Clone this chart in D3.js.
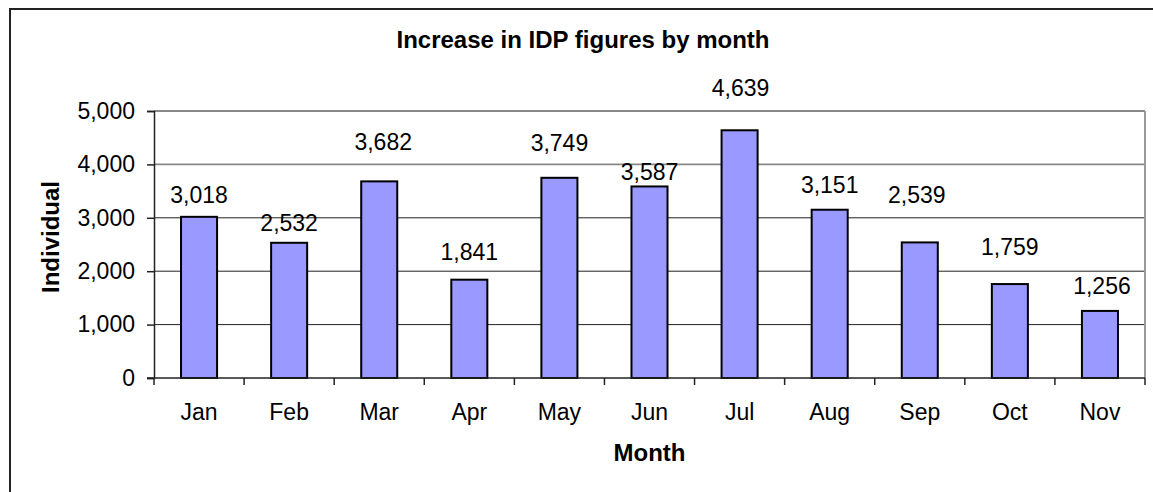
<!DOCTYPE html>
<html>
<head>
<meta charset="utf-8">
<script src="https://cdn.jsdelivr.net/npm/d3@7"></script>
<style>
  body { margin: 0; background: #fff; }
  svg text { font-family: Arial, "Liberation Sans", sans-serif; fill: #000; }
</style>
</head>
<body>
<script>
// data
var months = ["Jan","Feb","Mar","Apr","May","Jun","Jul","Aug","Sep","Oct","Nov"];
var values = [3018, 2532, 3682, 1841, 3749, 3587, 4639, 3151, 2539, 1759, 1256];
var yTicks = [0, 1000, 2000, 3000, 4000, 5000];

// the labels in the source were nudged by hand, keep that (px above bar top / sideways)
var labelLift = [14, 12, 31, 20, 27, 6, 34, 17, 39, 29, 17];
var labelShift = [0, 0, 4, 0, 0, 0, 1, 0, -3, 0, 2];

var w = 1153, h = 492;
var pLeft = 154, pRight = 1145, pTop = 111, pBottom = 378;

var svg = d3.select("body").append("svg")
    .attr("width", w)
    .attr("height", h);

// outer chart border, runs off the picture on right and bottom
svg.append("rect")
    .attr("x", 10).attr("y", 9)
    .attr("width", 1160).attr("height", 500)
    .attr("fill", "none")
    .attr("stroke", "#222")
    .attr("stroke-width", 2);

var x = d3.scaleBand()
    .domain(months)
    .range([pLeft, pRight])
    .paddingInner(0.6)
    .paddingOuter(0.3);

var y = d3.scaleLinear()
    .domain([0, 5000])
    .range([pBottom, pTop]);

// gridlines
svg.selectAll(".grid")
    .data(yTicks.filter(d => d > 0))
    .enter().append("line")
    .attr("class", "grid")
    .attr("x1", pLeft).attr("x2", pRight)
    .attr("y1", d => y(d)).attr("y2", d => y(d))
    .attr("stroke", d => d >= 4000 ? "#888" : "#222")
    .attr("stroke-width", d => d >= 4000 ? 1.8 : 1);

// right edge of plot area
svg.append("line")
    .attr("x1", pRight).attr("x2", pRight)
    .attr("y1", pTop).attr("y2", pBottom)
    .attr("stroke", "#999")
    .attr("stroke-width", 2);

// bars
svg.selectAll(".bar")
    .data(values)
    .enter().append("rect")
    .attr("class", "bar")
    .attr("x", (d, i) => x(months[i]))
    .attr("y", d => y(d))
    .attr("width", x.bandwidth())
    .attr("height", d => pBottom - y(d))
    .attr("fill", "#9999ff")
    .attr("stroke", "#000")
    .attr("stroke-width", 2);

// value labels
svg.selectAll(".val")
    .data(values)
    .enter().append("text")
    .attr("class", "val")
    .attr("x", (d, i) => x(months[i]) + x.bandwidth() / 2 + labelShift[i])
    .attr("y", (d, i) => y(d) - labelLift[i])
    .attr("text-anchor", "middle")
    .style("font-size", "23px")
    .text(d => d3.format(",")(d));

// y axis
var yAxis = d3.axisLeft(y)
    .tickValues(yTicks)
    .tickFormat(d3.format(","))
    .tickSize(7)
    .tickPadding(12);

var gy = svg.append("g")
    .attr("transform", "translate(" + pLeft + ",0)")
    .call(yAxis);
gy.select(".domain").attr("stroke", "#222").attr("stroke-width", 1.5);
gy.selectAll(".tick line").attr("stroke", "#222").attr("stroke-width", 1.5);
gy.selectAll(".tick text")
    .style("font-size", "23px")
    .attr("fill", "#000");

// x axis: ticks sit between the categories
var gx = svg.append("g")
    .attr("transform", "translate(0," + pBottom + ")");
gx.append("line")
    .attr("x1", pLeft - 7).attr("x2", pRight)
    .attr("stroke", "#222").attr("stroke-width", 1.5);
gx.selectAll(".xtick")
    .data(d3.range(months.length + 1))
    .enter().append("line")
    .attr("class", "xtick")
    .attr("x1", i => pLeft + i * x.step())
    .attr("x2", i => pLeft + i * x.step())
    .attr("y1", 0).attr("y2", 7)
    .attr("stroke", "#222").attr("stroke-width", 1.5);
gx.selectAll(".xlab")
    .data(months)
    .enter().append("text")
    .attr("class", "xlab")
    .attr("x", d => x(d) + x.bandwidth() / 2)
    .attr("y", 42)
    .attr("text-anchor", "middle")
    .style("font-size", "23px")
    .text(d => d);

// titles
svg.append("text")
    .attr("x", 583)
    .attr("y", 48)
    .attr("text-anchor", "middle")
    .style("font-size", "24px")
    .style("font-weight", "bold")
    .text("Increase in IDP figures by month");

svg.append("text")
    .attr("x", (pLeft + pRight) / 2)
    .attr("y", 461)
    .attr("text-anchor", "middle")
    .style("font-size", "24px")
    .style("font-weight", "bold")
    .text("Month");

svg.append("text")
    .attr("transform", "translate(59,237) rotate(-90)")
    .attr("text-anchor", "middle")
    .style("font-size", "24px")
    .style("font-weight", "bold")
    .text("Individual");
</script>
</body>
</html>
